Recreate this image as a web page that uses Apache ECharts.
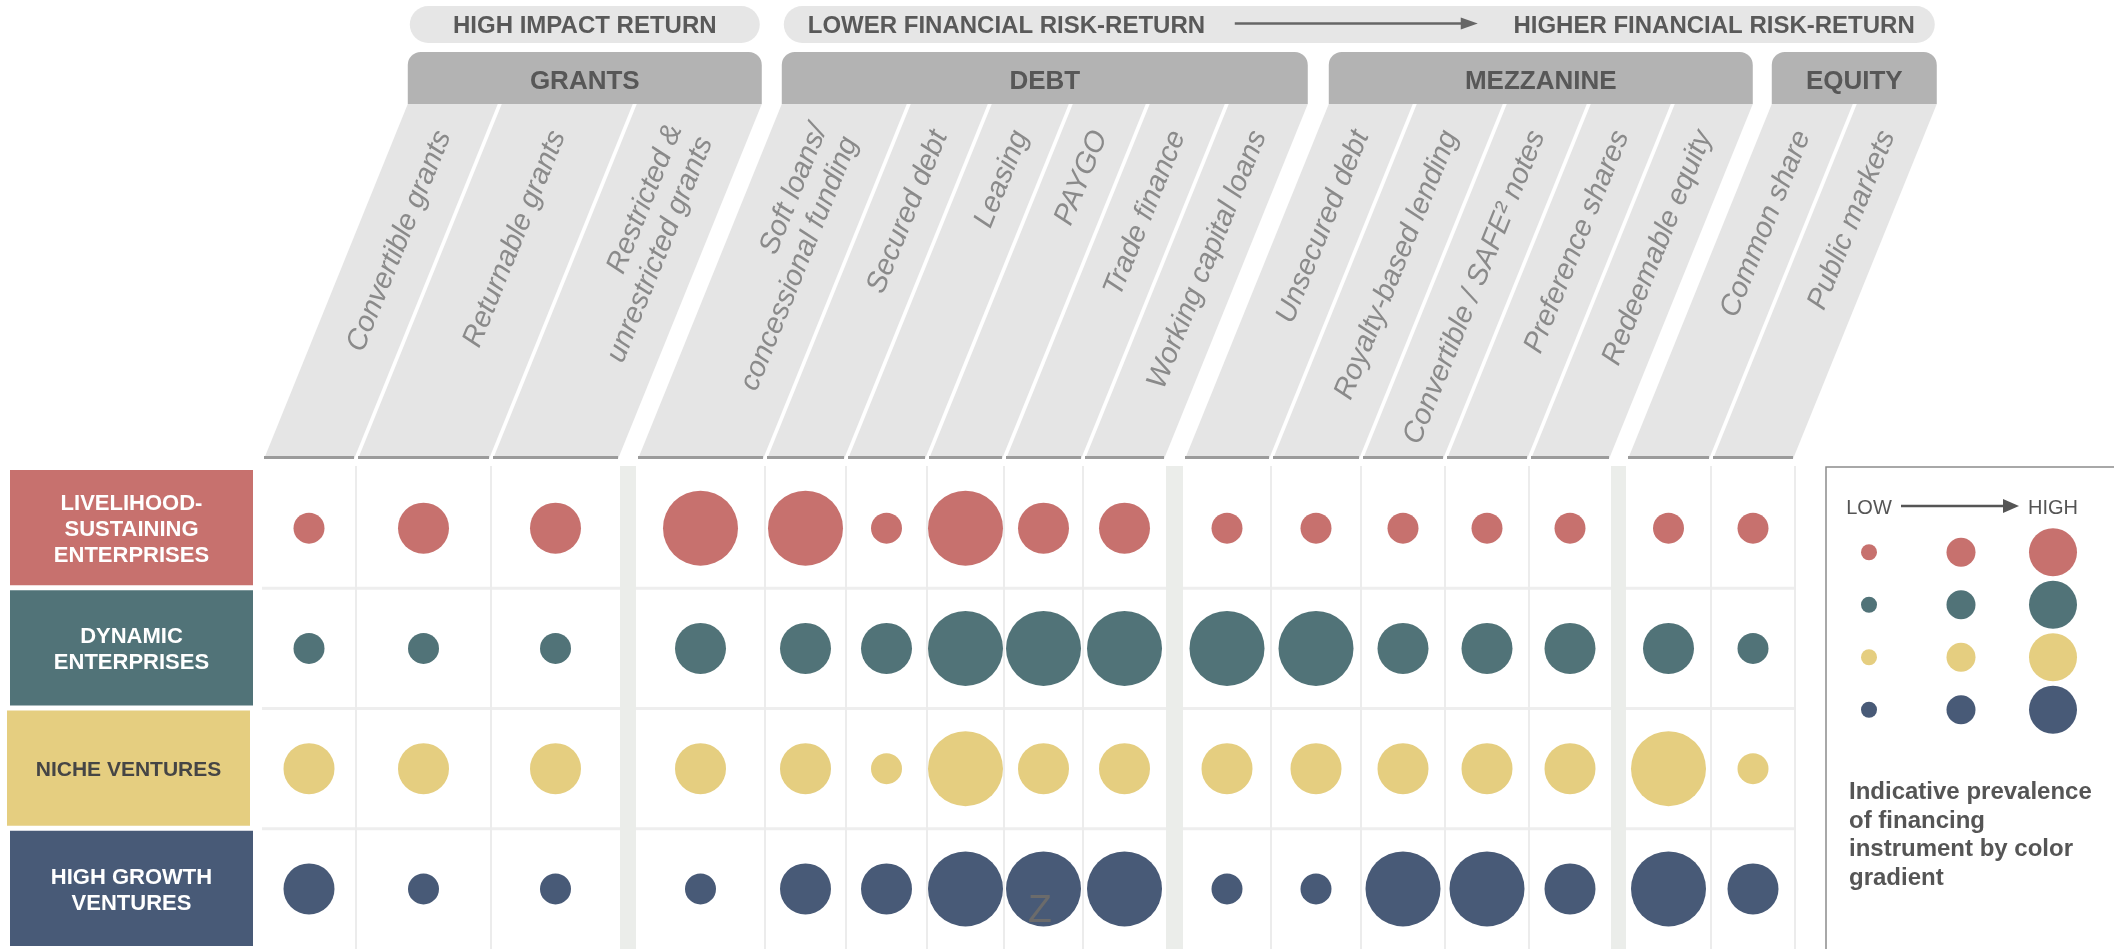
<!DOCTYPE html>
<html>
<head>
<meta charset="utf-8">
<title>Financing instruments by enterprise segment</title>
<script src="https://cdn.jsdelivr.net/npm/echarts@6/dist/echarts.min.js"></script>
<style>
  html, body { margin: 0; padding: 0; background: #fff; }
  #chart { width: 2114px; height: 949px; }
</style>
</head>
<body>
<div id="chart"></div>
<script>
// ---------- data ----------
const instruments = [
  'Convertible grants', 'Returnable grants', 'Restricted &\nunrestricted grants',
  'Soft loans/\nconcessional funding', 'Secured debt', 'Leasing', 'PAYGO', 'Trade finance', 'Working capital loans',
  'Unsecured debt', 'Royalty-based lending', 'Convertible / SAFE\u00b2 notes', 'Preference shares', 'Redeemable equity',
  'Common share', 'Public markets'
];
const groupNames = ['GRANTS', 'DEBT', 'MEZZANINE', 'EQUITY'];
const groupCounts = [3, 6, 5, 2];
const riskBands = ['HIGH IMPACT RETURN', 'LOWER FINANCIAL RISK-RETURN', 'HIGHER FINANCIAL RISK-RETURN'];
const segments = ['LIVELIHOOD-\nSUSTAINING\nENTERPRISES', 'DYNAMIC\nENTERPRISES', 'NICHE VENTURES', 'HIGH GROWTH\nVENTURES'];

// prevalence level per instrument: 1 = low, 2 = medium, 3 = high
const livelihoodSustaining = [1, 2, 2, 3, 3, 1, 3, 2, 2, 1, 1, 1, 1, 1, 1, 1];
const dynamicEnterprises   = [1, 1, 1, 2, 2, 2, 3, 3, 3, 3, 3, 2, 2, 2, 2, 1];
const nicheVentures        = [2, 2, 2, 2, 2, 1, 3, 2, 2, 2, 2, 2, 2, 2, 3, 1];
const highGrowthVentures   = [2, 1, 1, 1, 2, 2, 3, 3, 3, 1, 1, 3, 3, 2, 3, 2];

const legendLevels = ['LOW', '', 'HIGH'];
const legendNote = 'Indicative prevalence\nof financing\ninstrument by color\ngradient';

// ---------- layout / style ----------
const FONT = '"Liberation Sans", Arial, sans-serif';
const rowColors = ['#c7716e', '#517378', '#e5ce80', '#485a77'];
const rowTextColors = ['#ffffff', '#ffffff', '#454545', '#ffffff'];
const rowFontSizes = [22, 22, 21, 22];
const boxOffset = [0, 0, -3, 0];
const bubbleSize = {1: 31, 2: 51, 3: 75};
const legendSize = [16, 29, 48];
const colWidths = [94, 135, 129, 129, 81, 81, 77, 79, 83, 88, 90, 84, 84, 82, 85, 84];
const groupGaps = [16, 17, 15];
const PANEL_TOP = 104, PANEL_BOTTOM = 459, BAR_H = 3, SLANT = 0.405, LABEL_Y = 132;
const LABEL_ROTATE = 68;
const HEAD_TOP = 52, PILL_TOP = 6, PILL_H = 37;
const SHIFT = SLANT * (PANEL_BOTTOM - PANEL_TOP);

// column edges in axis units
const colLeft = [], colRight = [], groupStart = [], groupEnd = [];
let pos = 0, k = 0;
groupCounts.forEach((n, g) => {
  if (g > 0) pos += groupGaps[g - 1];
  groupStart.push(pos);
  for (let j = 0; j < n; j++, k++) {
    colLeft.push(pos);
    pos += colWidths[k];
    colRight.push(pos);
  }
  groupEnd.push(pos);
});
const totalWidth = pos;
const colCenter = colLeft.map((l, i) => (l + colRight[i]) / 2);
const rows = [livelihoodSustaining, dynamicEnterprises, nicheVentures, highGrowthVentures];

const chart = echarts.init(document.getElementById('chart'));

function xpx(api, v) {
  return api.coord([v, 0])[0];
}

function renderRowLine(params, api) {
  const r = api.value(0);
  const cs = params.coordSys;
  const y = api.coord([0, r])[1] - api.size([0, 1])[1] / 2;
  return {type: 'line', shape: {x1: cs.x, y1: y, x2: cs.x + cs.width, y2: y}, style: {stroke: '#eeeeee', lineWidth: 3}};
}

function renderColumnLine(params, api) {
  const i = api.value(0);
  // skip where a group separator follows
  if (i + 1 < instruments.length && colLeft[i + 1] !== colRight[i]) return null;
  const cs = params.coordSys;
  const x = xpx(api, colRight[i]);
  return {type: 'line', shape: {x1: x, y1: cs.y - 2, x2: x, y2: cs.y + cs.height}, style: {stroke: '#ececec', lineWidth: 2}};
}

function renderSeparator(params, api) {
  const g = api.value(0);
  const cs = params.coordSys;
  const x1 = xpx(api, groupEnd[g]);
  const x2 = xpx(api, groupStart[g + 1]);
  return {type: 'rect', shape: {x: x1, y: cs.y - 2, width: x2 - x1, height: cs.height + 4}, style: {fill: '#ebedea'}};
}

function renderPanel(params, api) {
  const i = api.value(0);
  const l = xpx(api, colLeft[i]) + 2;
  const r = xpx(api, colRight[i]) - 2;
  const lx = (l + r) / 2 + SLANT * (PANEL_BOTTOM - LABEL_Y) + 2;
  return {
    type: 'group',
    children: [
      {type: 'polygon', shape: {points: [[l, PANEL_BOTTOM], [r, PANEL_BOTTOM], [r + SHIFT, PANEL_TOP], [l + SHIFT, PANEL_TOP]]}, style: {fill: '#e5e5e5'}},
      {type: 'rect', shape: {x: l, y: PANEL_BOTTOM - BAR_H, width: r - l, height: BAR_H}, style: {fill: '#9b9b9b'}},
      {
        type: 'text', x: lx, y: LABEL_Y, rotation: LABEL_ROTATE * Math.PI / 180,
        style: {
          text: instruments[i], fill: '#8a8a8a', fontSize: 29, fontStyle: 'italic', fontFamily: FONT,
          align: 'right', verticalAlign: 'middle', lineHeight: 33
        }
      }
    ]
  };
}

function renderGroupHeader(params, api) {
  const g = api.value(0);
  const l = xpx(api, groupStart[g]) + 2 + SHIFT;
  const r = xpx(api, groupEnd[g]) - 2 + SHIFT;
  return {
    type: 'group',
    children: [
      {type: 'rect', shape: {x: l, y: HEAD_TOP, width: r - l, height: PANEL_TOP - HEAD_TOP, r: [13, 13, 0, 0]}, style: {fill: '#b3b3b3'}},
      {type: 'text', x: (l + r) / 2, y: 82, style: {text: groupNames[g], fill: '#575757', fontSize: 26, fontWeight: 'bold', fontFamily: FONT, align: 'center', verticalAlign: 'middle'}}
    ]
  };
}

const bandGroups = [[0, 0], [1, 3]];
function renderBand(params, api) {
  const b = api.value(0);
  const l = xpx(api, groupStart[bandGroups[b][0]]) + 4 + SHIFT;
  const r = xpx(api, groupEnd[bandGroups[b][1]]) - 4 + SHIFT;
  const cy = PILL_TOP + PILL_H / 2;
  const ty = cy + 2;
  const txt = {fill: '#595959', fontSize: 24, fontWeight: 'bold', fontFamily: FONT, verticalAlign: 'middle'};
  const children = [
    {type: 'rect', shape: {x: l, y: PILL_TOP, width: r - l, height: PILL_H, r: PILL_H / 2}, style: {fill: '#e6e6e6'}}
  ];
  if (b === 0) {
    children.push({type: 'text', x: (l + r) / 2, y: ty, style: Object.assign({text: riskBands[0], align: 'center'}, txt)});
  } else {
    const a1 = l + 451, a2 = r - 457;
    children.push(
      {type: 'text', x: l + 24, y: ty, style: Object.assign({text: riskBands[1], align: 'left'}, txt)},
      {type: 'text', x: r - 20, y: ty, style: Object.assign({text: riskBands[2], align: 'right'}, txt)},
      {type: 'line', shape: {x1: a1, y1: cy - 1, x2: a2 - 14, y2: cy - 1}, style: {stroke: '#666', lineWidth: 2.5}},
      {type: 'polygon', shape: {points: [[a2 - 17, cy - 7], [a2, cy - 1], [a2 - 17, cy + 5]]}, style: {fill: '#666'}}
    );
  }
  return {type: 'group', children: children};
}

function renderSegmentBox(params, api) {
  const r = api.value(1);
  const cs = params.coordSys;
  const band = api.size([0, 1])[1];
  const cy = api.coord([0, r])[1];
  const x = cs.x + boxOffset[r];
  return {
    type: 'group',
    children: [
      {type: 'rect', shape: {x: x, y: cy - band / 2 + 2, width: cs.width, height: band - 5}, style: {fill: rowColors[r]}},
      {type: 'text', x: x + cs.width / 2, y: cy + 2, style: {
        text: segments[r], fill: rowTextColors[r], fontSize: rowFontSizes[r], fontWeight: 'bold', fontFamily: FONT,
        align: 'center', verticalAlign: 'middle', lineHeight: 26
      }}
    ]
  };
}

const bubbleSeries = rows.map((vals, r) => ({
  type: 'scatter',
  name: segments[r].replace(/\n/g, ' '),
  xAxisIndex: 0, yAxisIndex: 0,
  data: vals.map((v, i) => [colCenter[i], r, v]),
  symbol: 'circle',
  symbolSize: d => bubbleSize[d[2]],
  itemStyle: {color: rowColors[r], opacity: 1},
  emphasis: {disabled: true},
  z: 4
}));

const legendData = [];
rows.forEach((_, r) => legendLevels.forEach((_, lv) => legendData.push([lv, r])));

const option = {
  animation: false,
  backgroundColor: '#ffffff',
  textStyle: {fontFamily: FONT},
  grid: [
    {left: 262, top: 468, width: totalWidth, height: 484},
    {left: 10, top: 468, width: 243, height: 484},
    {left: 1823, top: 526, width: 276, height: 210}
  ],
  xAxis: [
    {gridIndex: 0, type: 'value', min: 0, max: totalWidth, show: false},
    {gridIndex: 1, type: 'value', min: 0, max: 1, show: false},
    {
      gridIndex: 2, type: 'category', data: legendLevels, position: 'top',
      axisLine: {show: false}, axisTick: {show: false}, splitLine: {show: false},
      axisLabel: {color: '#555', fontSize: 20, fontFamily: FONT, margin: 8, interval: 0}
    }
  ],
  yAxis: [
    {gridIndex: 0, type: 'category', data: segments, inverse: true, show: false},
    {gridIndex: 1, type: 'category', data: segments, inverse: true, show: false},
    {gridIndex: 2, type: 'category', data: segments, inverse: true, show: false}
  ],
  graphic: [
    {type: 'rect', shape: {x: 1826, y: 467, width: 400, height: 600}, style: {fill: 'none', stroke: '#8c8c8c', lineWidth: 1.5}, z: 1},
    {type: 'line', shape: {x1: 1901, y1: 506, x2: 2005, y2: 506}, style: {stroke: '#555', lineWidth: 2.5}, z: 5},
    {type: 'polygon', shape: {points: [[2003, 499], [2019, 506], [2003, 513]]}, style: {fill: '#555'}, z: 5},
    {type: 'text', x: 1849, y: 778, style: {text: legendNote, fill: '#555', fontSize: 24, fontWeight: 'bold', fontFamily: FONT, lineHeight: 28.7, verticalAlign: 'top'}, z: 5},
    {type: 'text', x: 1040, y: 911, style: {text: 'Z', fill: '#6b6b6b', fontSize: 39, fontFamily: FONT, align: 'center', verticalAlign: 'middle'}, z: 10}
  ],
  series: [
    {type: 'custom', name: 'rowLines', xAxisIndex: 0, yAxisIndex: 0, silent: true, z: 1, data: [[1], [2], [3]], renderItem: renderRowLine},
    {type: 'custom', name: 'colLines', xAxisIndex: 0, yAxisIndex: 0, silent: true, z: 1, data: instruments.map((_, i) => [i]), renderItem: renderColumnLine},
    {type: 'custom', name: 'separators', xAxisIndex: 0, yAxisIndex: 0, silent: true, z: 2, data: groupGaps.map((_, g) => [g]), renderItem: renderSeparator},
    {type: 'custom', name: 'panels', xAxisIndex: 0, yAxisIndex: 0, silent: true, z: 1, clip: false, data: instruments.map((_, i) => [i]), renderItem: renderPanel},
    {type: 'custom', name: 'groups', xAxisIndex: 0, yAxisIndex: 0, silent: true, z: 1, clip: false, data: groupNames.map((_, g) => [g]), renderItem: renderGroupHeader},
    {type: 'custom', name: 'bands', xAxisIndex: 0, yAxisIndex: 0, silent: true, z: 1, clip: false, data: [[0], [1]], renderItem: renderBand},
    ...bubbleSeries,
    {type: 'custom', name: 'segments', xAxisIndex: 1, yAxisIndex: 1, silent: true, z: 2, data: segments.map((_, r) => [0, r]), renderItem: renderSegmentBox},
    {
      type: 'scatter', name: 'legend', xAxisIndex: 2, yAxisIndex: 2, silent: true, z: 4,
      data: legendData,
      symbolSize: d => legendSize[d[0]],
      itemStyle: {color: p => rowColors[p.data[1]], opacity: 1}
    }
  ]
};

chart.setOption(option);
</script>
</body>
</html>
